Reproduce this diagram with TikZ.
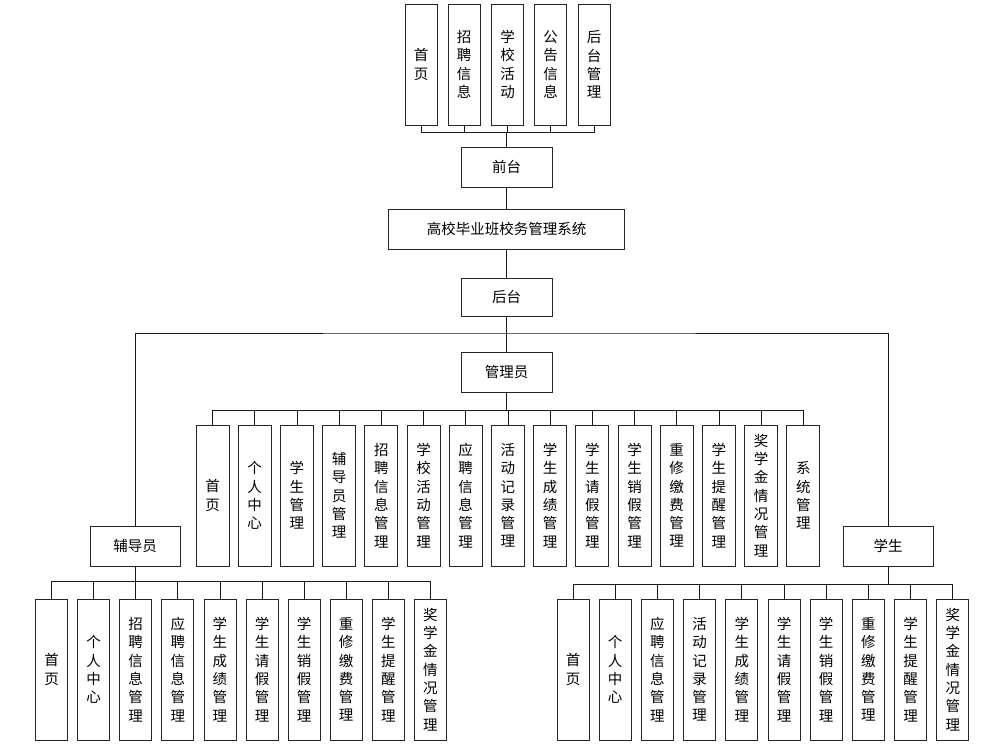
\documentclass[tikz,border=0pt]{standalone}
\usepackage{fontspec}
\setmainfont{Noto Sans CJK SC}
\begin{document}
\begin{tikzpicture}[x=1pt,y=-1pt,
  box/.style={draw=black!85,line width=0.8pt,inner sep=0pt,align=center,
    font=\fontsize{14.5}{18.3}\selectfont},
  hbox/.style={box,minimum width=91pt,minimum height=40pt},
  vtop/.style={box,minimum width=32pt,minimum height=121pt},
  vbox/.style={box,minimum width=33pt,minimum height=141pt},
  vlow/.style={box,minimum width=32pt,minimum height=141pt},
  conn/.style={draw=black!90,line width=0.8pt}]
\useasboundingbox (0,0) rectangle (982,750);
% top
\node[vtop] (t1) at (421,64.5) {首\\页};
\node[vtop] (t2) at (464,64.5) {招\\聘\\信\\息};
\node[vtop] (t3) at (507.5,64.5) {学\\校\\活\\动};
\node[vtop] (t4) at (550.5,64.5) {公\\告\\信\\息};
\node[vtop] (t5) at (594,64.5) {后\\台\\管\\理};
\node[hbox] (qt) at (506.5,167) {前台};
\node[hbox,minimum width=236pt] (sys) at (506.5,229) {高校毕业班校务管理系统};
\node[hbox,minimum height=38pt] (ht) at (506.5,297) {后台};
\node[hbox] (gly) at (506.5,372) {管理员};
\node[hbox,minimum width=90pt] (fdy) at (135,546) {辅导员};
\node[hbox,minimum width=90pt] (xs) at (888,546) {学生};
\coordinate (busT) at (506.5,132);
\coordinate (busR) at (506.5,333);
\coordinate (busA) at (506.5,410);
\coordinate (busF) at (135,581);
\coordinate (busS) at (888,584);
\foreach \i in {1,...,5} {\draw[conn] (t\i.south) |- (busT);}
\draw[conn] (busT) -- (qt.north);
\draw[conn] (qt.south) -- (sys.north);
\draw[conn] (sys.south) -- (ht.north);
\draw[conn] (ht.south) -- (gly.north);
\draw[conn] (fdy.north) |- (busR) -| (xs.north);
% admin
\foreach \t [count=\i from 0] in {首\\页,个\\人\\中\\心,学\\生\\管\\理,辅\\导\\员\\管\\理,招\\聘\\信\\息\\管\\理,学\\校\\活\\动\\管\\理,应\\聘\\信\\息\\管\\理,活\\动\\记\\录\\管\\理,学\\生\\成\\绩\\管\\理,学\\生\\请\\假\\管\\理,学\\生\\销\\假\\管\\理,重\\修\\缴\\费\\管\\理,学\\生\\提\\醒\\管\\理,奖\\学\\金\\情\\况\\管\\理,系\\统\\管\\理} {
  \node[vbox] (a\i) at ({212.5+42.2*\i},495.5) {\t};
  \draw[conn] (a\i.north) |- (busA);
}
\draw[conn] (gly.south) -- (busA);
% counselor
\foreach \t [count=\i from 0] in {首\\页,个\\人\\中\\心,招\\聘\\信\\息\\管\\理,应\\聘\\信\\息\\管\\理,学\\生\\成\\绩\\管\\理,学\\生\\请\\假\\管\\理,学\\生\\销\\假\\管\\理,重\\修\\缴\\费\\管\\理,学\\生\\提\\醒\\管\\理,奖\\学\\金\\情\\况\\管\\理} {
  \node[vlow] (f\i) at ({51.5+42.1*\i},669.5) {\t};
  \draw[conn] (f\i.north) |- (busF);
}
\draw[conn] (fdy.south) -- (busF);
% student
\foreach \t [count=\i from 0] in {首\\页,个\\人\\中\\心,应\\聘\\信\\息\\管\\理,活\\动\\记\\录\\管\\理,学\\生\\成\\绩\\管\\理,学\\生\\请\\假\\管\\理,学\\生\\销\\假\\管\\理,重\\修\\缴\\费\\管\\理,学\\生\\提\\醒\\管\\理,奖\\学\\金\\情\\况\\管\\理} {
  \node[vlow] (s\i) at ({573+42.2*\i},669.5) {\t};
  \draw[conn] (s\i.north) |- (busS);
}
\draw[conn] (xs.south) -- (busS);
\end{tikzpicture}
\end{document}
